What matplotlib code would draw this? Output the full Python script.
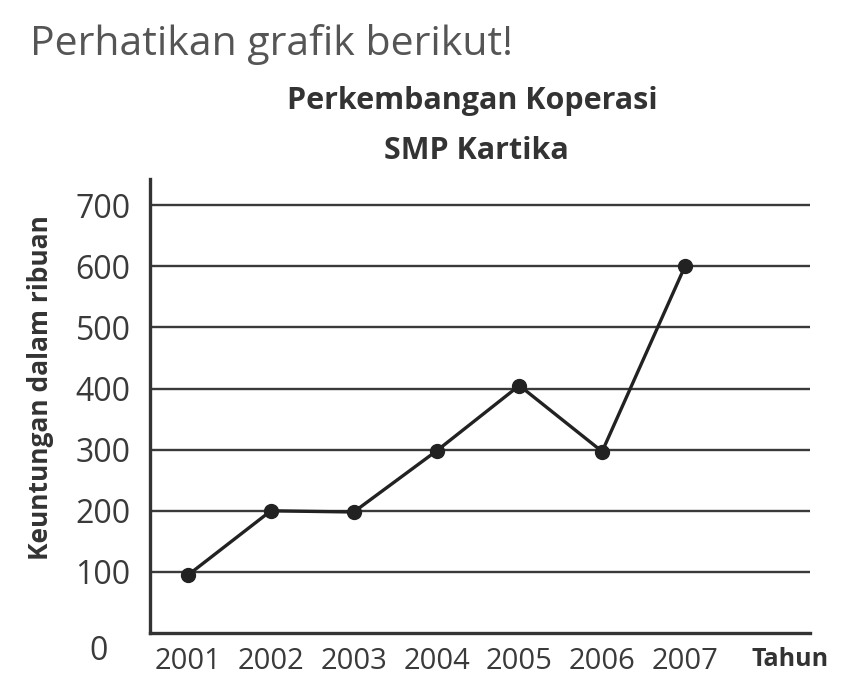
import matplotlib.pyplot as plt

# data
tahun = ['2001', '2002', '2003', '2004', '2005', '2006', '2007']
keuntungan = [95, 200, 198, 298, 405, 297, 600]
y_ticks = [100, 200, 300, 400, 500, 600, 700]

plt.rcParams['font.family'] = ['Open Sans', 'DejaVu Sans']

fig = plt.figure(figsize=(8.41, 6.85), dpi=100)
ax = fig.add_axes([0.1784, 0.0759, 0.7847, 0.6628])

x = list(range(1, len(tahun) + 1))

# garis grid horizontal
for v in y_ticks:
    ax.axhline(v, color='#3a3a3a', lw=1.7, zorder=1)

ax.plot(x, keuntungan, color='#222222', lw=2.4, marker='o', markersize=10,
        markerfacecolor='#222222', markeredgecolor='#222222', zorder=3)

ax.set_xlim(0.54, 8.51)
ax.set_ylim(0, 743)

ax.spines['top'].set_visible(False)
ax.spines['right'].set_visible(False)
ax.spines['left'].set_linewidth(2.4)
ax.spines['bottom'].set_linewidth(2.4)
ax.spines['left'].set_color('#333333')
ax.spines['bottom'].set_color('#333333')

ax.set_yticks(y_ticks)
ax.set_yticklabels([str(v) for v in y_ticks], fontsize=23, color='#3a3a3a')
ax.set_xticks(x)
ax.set_xticklabels(tahun, fontsize=21, color='#3a3a3a')
ax.tick_params(axis='both', length=0)
ax.tick_params(axis='y', pad=14)
ax.tick_params(axis='x', pad=10)

# label 0 dan Tahun
ax.text(-0.08, -30, '0', fontsize=23, color='#3a3a3a', ha='center', va='center',
        clip_on=False)
ax.text(8.27, -43, 'Tahun', fontsize=18, fontweight='bold', color='#333333',
        ha='center', va='center', clip_on=False)

ax.set_ylabel('Keuntungan dalam ribuan', fontsize=19, fontweight='bold',
              color='#333333')
ax.yaxis.set_label_coords(-0.145, 0.54)

fig.text(0.036, 0.935, 'Perhatikan grafik berikut!', fontsize=29.5,
         color='#555555', ha='left', va='center')
fig.text(0.562, 0.853, 'Perkembangan Koperasi', fontsize=22,
         fontweight='bold', color='#333333', ha='center', va='center')
fig.text(0.566, 0.780, 'SMP Kartika', fontsize=22, fontweight='bold',
         color='#333333', ha='center', va='center')

fig.savefig('out.png', dpi=100)
